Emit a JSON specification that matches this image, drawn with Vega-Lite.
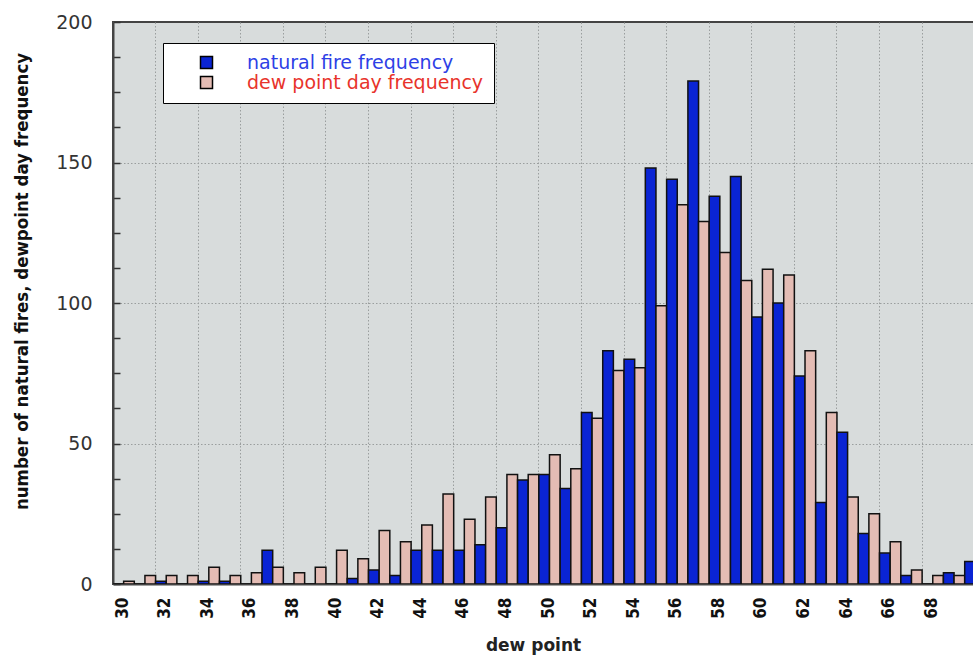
{
  "$schema": "https://vega.github.io/schema/vega-lite/v6.json",
  "autosize": {"type": "none"},
  "width": 862,
  "height": 562,
  "padding": {"left": 113, "top": 22, "right": 0, "bottom": 74},
  "background": "white",
  "config": {
    "view": {"fill": "#d8dcdc", "stroke": "#444", "strokeWidth": 2},
    "font": "DejaVu Sans"
  },
  "data": {"values": [
    {"dp": 30, "series": "natural fire frequency", "n": 0}, {"dp": 30, "series": "dew point day frequency", "n": 1},
    {"dp": 31, "series": "natural fire frequency", "n": 0}, {"dp": 31, "series": "dew point day frequency", "n": 3},
    {"dp": 32, "series": "natural fire frequency", "n": 1}, {"dp": 32, "series": "dew point day frequency", "n": 3},
    {"dp": 33, "series": "natural fire frequency", "n": 0}, {"dp": 33, "series": "dew point day frequency", "n": 3},
    {"dp": 34, "series": "natural fire frequency", "n": 1}, {"dp": 34, "series": "dew point day frequency", "n": 6},
    {"dp": 35, "series": "natural fire frequency", "n": 1}, {"dp": 35, "series": "dew point day frequency", "n": 3},
    {"dp": 36, "series": "natural fire frequency", "n": 0}, {"dp": 36, "series": "dew point day frequency", "n": 4},
    {"dp": 37, "series": "natural fire frequency", "n": 12}, {"dp": 37, "series": "dew point day frequency", "n": 6},
    {"dp": 38, "series": "natural fire frequency", "n": 0}, {"dp": 38, "series": "dew point day frequency", "n": 4},
    {"dp": 39, "series": "natural fire frequency", "n": 0}, {"dp": 39, "series": "dew point day frequency", "n": 6},
    {"dp": 40, "series": "natural fire frequency", "n": 0}, {"dp": 40, "series": "dew point day frequency", "n": 12},
    {"dp": 41, "series": "natural fire frequency", "n": 2}, {"dp": 41, "series": "dew point day frequency", "n": 9},
    {"dp": 42, "series": "natural fire frequency", "n": 5}, {"dp": 42, "series": "dew point day frequency", "n": 19},
    {"dp": 43, "series": "natural fire frequency", "n": 3}, {"dp": 43, "series": "dew point day frequency", "n": 15},
    {"dp": 44, "series": "natural fire frequency", "n": 12}, {"dp": 44, "series": "dew point day frequency", "n": 21},
    {"dp": 45, "series": "natural fire frequency", "n": 12}, {"dp": 45, "series": "dew point day frequency", "n": 32},
    {"dp": 46, "series": "natural fire frequency", "n": 12}, {"dp": 46, "series": "dew point day frequency", "n": 23},
    {"dp": 47, "series": "natural fire frequency", "n": 14}, {"dp": 47, "series": "dew point day frequency", "n": 31},
    {"dp": 48, "series": "natural fire frequency", "n": 20}, {"dp": 48, "series": "dew point day frequency", "n": 39},
    {"dp": 49, "series": "natural fire frequency", "n": 37}, {"dp": 49, "series": "dew point day frequency", "n": 39},
    {"dp": 50, "series": "natural fire frequency", "n": 39}, {"dp": 50, "series": "dew point day frequency", "n": 46},
    {"dp": 51, "series": "natural fire frequency", "n": 34}, {"dp": 51, "series": "dew point day frequency", "n": 41},
    {"dp": 52, "series": "natural fire frequency", "n": 61}, {"dp": 52, "series": "dew point day frequency", "n": 59},
    {"dp": 53, "series": "natural fire frequency", "n": 83}, {"dp": 53, "series": "dew point day frequency", "n": 76},
    {"dp": 54, "series": "natural fire frequency", "n": 80}, {"dp": 54, "series": "dew point day frequency", "n": 77},
    {"dp": 55, "series": "natural fire frequency", "n": 148}, {"dp": 55, "series": "dew point day frequency", "n": 99},
    {"dp": 56, "series": "natural fire frequency", "n": 144}, {"dp": 56, "series": "dew point day frequency", "n": 135},
    {"dp": 57, "series": "natural fire frequency", "n": 179}, {"dp": 57, "series": "dew point day frequency", "n": 129},
    {"dp": 58, "series": "natural fire frequency", "n": 138}, {"dp": 58, "series": "dew point day frequency", "n": 118},
    {"dp": 59, "series": "natural fire frequency", "n": 145}, {"dp": 59, "series": "dew point day frequency", "n": 108},
    {"dp": 60, "series": "natural fire frequency", "n": 95}, {"dp": 60, "series": "dew point day frequency", "n": 112},
    {"dp": 61, "series": "natural fire frequency", "n": 100}, {"dp": 61, "series": "dew point day frequency", "n": 110},
    {"dp": 62, "series": "natural fire frequency", "n": 74}, {"dp": 62, "series": "dew point day frequency", "n": 83},
    {"dp": 63, "series": "natural fire frequency", "n": 29}, {"dp": 63, "series": "dew point day frequency", "n": 61},
    {"dp": 64, "series": "natural fire frequency", "n": 54}, {"dp": 64, "series": "dew point day frequency", "n": 31},
    {"dp": 65, "series": "natural fire frequency", "n": 18}, {"dp": 65, "series": "dew point day frequency", "n": 25},
    {"dp": 66, "series": "natural fire frequency", "n": 11}, {"dp": 66, "series": "dew point day frequency", "n": 15},
    {"dp": 67, "series": "natural fire frequency", "n": 3}, {"dp": 67, "series": "dew point day frequency", "n": 5},
    {"dp": 68, "series": "natural fire frequency", "n": 0}, {"dp": 68, "series": "dew point day frequency", "n": 3},
    {"dp": 69, "series": "natural fire frequency", "n": 4}, {"dp": 69, "series": "dew point day frequency", "n": 3},
    {"dp": 70, "series": "natural fire frequency", "n": 8}
  ]},
  "mark": {"type": "bar", "stroke": "#111", "strokeWidth": 1.5, "clip": true},
  "encoding": {
    "x": {
      "field": "dp", "type": "ordinal",
      "scale": {"domain": [30,31,32,33,34,35,36,37,38,39,40,41,42,43,44,45,46,47,48,49,50,51,52,53,54,55,56,57,58,59,60,61,62,63,64,65,66,67,68,69,70], "range": [0, 873], "paddingInner": 0, "paddingOuter": 0},
      "axis": {
        "values": [30,32,34,36,38,40,42,44,46,48,50,52,54,56,58,60,62,64,66,68],
        "bandPosition": 0, "labelOffset": -1, "labelAngle": 270, "labelAlign": "right", "labelBaseline": "middle",
        "ticks": false, "labelPadding": 13,
        "grid": true, "gridColor": "#9a9e9e", "gridDash": [1.5, 2], "gridWidth": 1,
        "domainColor": "#444", "domainWidth": 2,
        "labelFont": "DejaVu Sans Condensed", "labelFontWeight": "bold", "labelFontSize": 17, "labelColor": "#111",
        "title": "dew point", "titleFont": "DejaVu Sans", "titleFontSize": 17, "titleFontWeight": "bold", "titleColor": "#222",
        "titleX": 420, "titleY": 61, "titleBaseline": "middle"
      }
    },
    "xOffset": {
      "field": "series",
      "scale": {"domain": ["natural fire frequency", "dew point day frequency"], "paddingInner": 0, "paddingOuter": 0}
    },
    "y": {
      "field": "n", "type": "quantitative",
      "scale": {"domain": [0, 200], "nice": false},
      "axis": {
        "values": [0,12.5,25,37.5,50,62.5,75,87.5,100,112.5,125,137.5,150,162.5,175,187.5,200],
        "labelExpr": "datum.value % 50 === 0 ? datum.label : ''",
        "tickSize": -7, "tickColor": "#333", "tickWidth": 1.5,
        "labelPadding": 28, "labelFontSize": 19, "labelColor": "#333", "labelFont": "DejaVu Sans",
        "labelOverlap": false, "labelFlush": false,
        "domainColor": "#444", "domainWidth": 2,
        "grid": true, "gridColor": "#9a9e9e", "gridDash": [1.5, 2], "gridWidth": 1,
        "gridOpacity": {"condition": {"test": "datum.value % 50 === 0 && datum.value > 0 && datum.value < 200", "value": 1}, "value": 0},
        "title": "number of natural fires, dewpoint day frequency",
        "titleFont": "DejaVu Sans Condensed", "titleFontWeight": "bold", "titleFontSize": 18.5, "titleColor": "#111",
        "titleX": -92, "titleY": 259, "titleBaseline": "middle", "titleAngle": 270
      }
    },
    "color": {
      "field": "series", "type": "nominal",
      "scale": {"domain": ["natural fire frequency", "dew point day frequency"], "range": ["#0a24d4", "#e4bcb4"]},
      "legend": {
        "orient": "none", "legendX": 50, "legendY": 21, "title": null,
        "fillColor": "white", "strokeColor": "#000", "padding": 10,
        "symbolType": "square", "symbolSize": 144, "symbolStrokeColor": "#000", "symbolStrokeWidth": 1.5,
        "symbolOffset": 24, "labelOffset": 31, "labelFontSize": 19, "labelFont": "DejaVu Sans",
        "labelColor": {"expr": "datum.label === 'natural fire frequency' ? '#2e3fe6' : '#e8332b'"},
        "rowPadding": -2, "labelLimit": 400
      }
    }
  }
}
